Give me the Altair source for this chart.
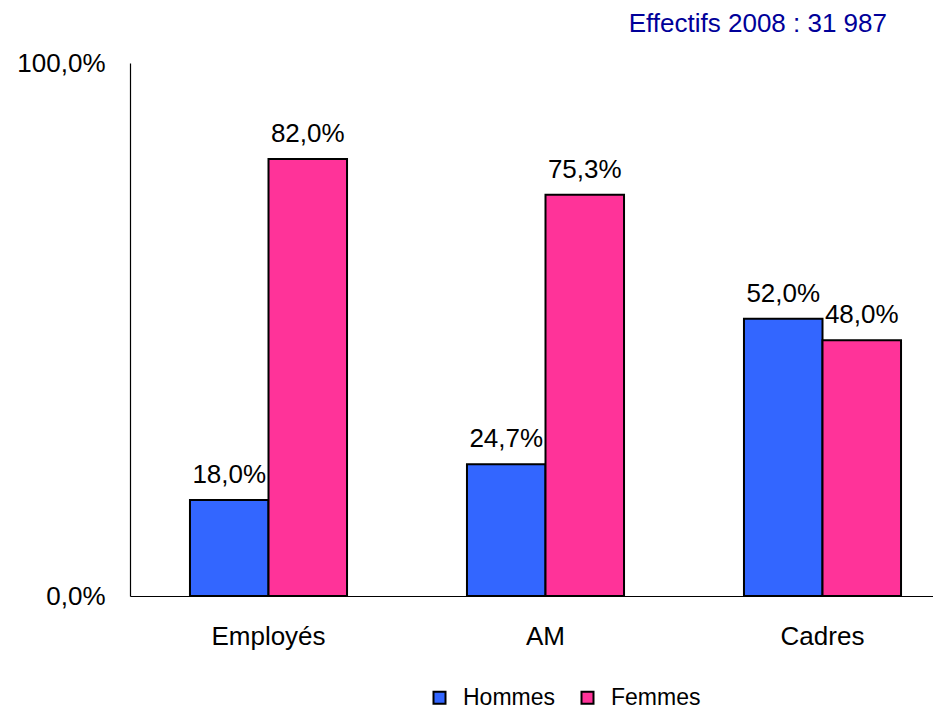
import altair as alt
import pandas as pd

categories = ["Employés", "AM", "Cadres"]
series = ["Hommes", "Femmes"]
hommes = [0.18, 0.247, 0.52]
femmes = [0.82, 0.753, 0.48]
colors = ["#3366FF", "#FF3399"]
y_ticks = [0, 1]
note = "Effectifs 2008 : 31 987"

rows = []
for c, h, f in zip(categories, hommes, femmes):
    rows.append({"cat": c, "sexe": "Hommes", "val": h})
    rows.append({"cat": c, "sexe": "Femmes", "val": f})
df = pd.DataFrame(rows)

FONT = "Liberation Sans"

x = alt.X(
    "cat:N", sort=categories, title=None,
    scale=alt.Scale(domain=categories, range=[0, 831], paddingInner=0.433, paddingOuter=0.2165),
    axis=alt.Axis(labelAngle=0, ticks=False, domainColor="black", domainWidth=1.2,
                  labelFont=FONT, labelFontSize=26, labelColor="black", labelPadding=27),
)
xo = alt.XOffset("sexe:N", sort=series, scale=alt.Scale(domain=series, paddingInner=0, paddingOuter=0))
y = alt.Y(
    "val:Q", title=None, scale=alt.Scale(domain=[0, 1], nice=False),
    axis=alt.Axis(values=y_ticks, grid=False, ticks=False, domainColor="black", domainWidth=1.2,
                  labelExpr="replace(format(datum.value, '.1%'), '.', ',')",
                  labelFont=FONT, labelFontSize=26, labelColor="black", labelPadding=25),
)
color = alt.Color(
    "sexe:N", sort=series, scale=alt.Scale(domain=series, range=colors),
    legend=alt.Legend(title=None, orient="none", direction="horizontal", legendX=298, legendY=623,
                      symbolType="square", symbolSize=144, symbolStrokeColor="black", symbolStrokeWidth=2,
                      labelFont=FONT, labelFontSize=23, labelColor="black", labelOffset=12,
                      columnPadding=20, padding=0),
)

base = alt.Chart(df).encode(x=x, xOffset=xo, y=y)
bars = base.mark_bar(stroke="black", strokeWidth=2).encode(color=color)
labels = base.transform_calculate(
    lab="replace(format(datum.val, '.1%'), '.', ',')"
).mark_text(font=FONT, fontSize=26, color="black", baseline="alphabetic", dy=-17).encode(text="lab:N")

chart = alt.layer(bars, labels).properties(
    width=803, height=533,
    title=alt.TitleParams(note, anchor="end", frame="group", color="#000099", fontSize=26, font=FONT,
                          fontWeight="normal", dx=-46, dy=-9),
    autosize=alt.AutoSizeParams(type="none"),
    padding={"left": 122, "top": 55, "right": 0, "bottom": 116},
).configure_view(stroke=None)

chart.save("out.html", embed_options={"renderer": "svg", "actions": False})
